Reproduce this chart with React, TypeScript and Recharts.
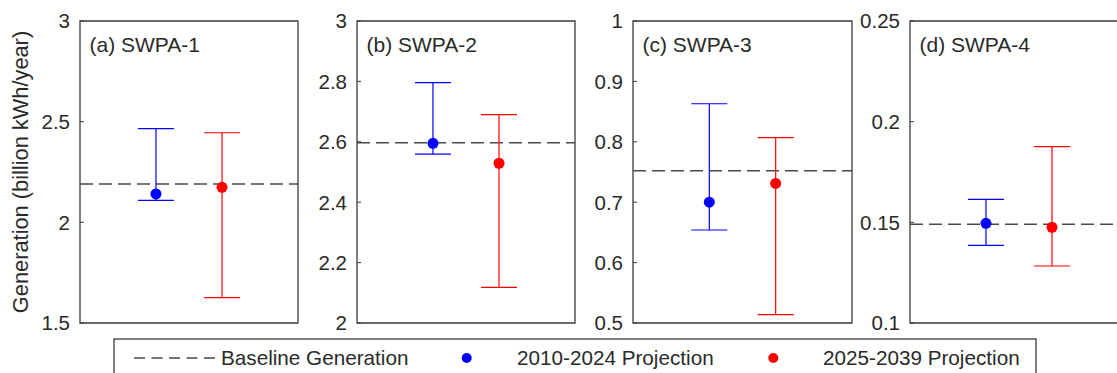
import React from 'react';
import {
  ScatterChart,
  Scatter,
  XAxis,
  YAxis,
  ErrorBar,
  ReferenceLine,
  ReferenceArea,
} from 'recharts';

// ---- data -------------------------------------------------------------
const panelTitles = ['(a) SWPA-1', '(b) SWPA-2', '(c) SWPA-3', '(d) SWPA-4'];

// baseline generation (billion kWh/year)
const baseline = [2.19, 2.597, 0.752, 0.149];

// 2010-2024 projection: mean with lower / upper bounds
const proj2010Mean = [2.141, 2.595, 0.7, 0.1495];
const proj2010Low = [2.109, 2.559, 0.654, 0.1386];
const proj2010High = [2.465, 2.796, 0.863, 0.1614];

// 2025-2039 projection: mean with lower / upper bounds
const proj2025Mean = [2.174, 2.529, 0.731, 0.1475];
const proj2025Low = [1.626, 2.118, 0.514, 0.1283];
const proj2025High = [2.445, 2.69, 0.807, 0.1876];

// y-axis ticks per panel
const yTicks = [
  [1.5, 2, 2.5, 3],
  [2, 2.2, 2.4, 2.6, 2.8, 3],
  [0.5, 0.6, 0.7, 0.8, 0.9, 1],
  [0.1, 0.15, 0.2, 0.25],
];

const yAxisTitle = 'Generation (billion kWh/year)';
const legendLabels = ['Baseline Generation', '2010-2024 Projection', '2025-2039 Projection'];

// ---- layout / style ---------------------------------------------------
const FONT = 'Arial, "Liberation Sans", Helvetica, sans-serif';
const W = 1117;
const H = 373;
const PLOT_TOP = 21;
const PLOT_BOTTOM = 323;
const panelBoxes = [
  { left: 80, width: 218 },
  { left: 357, width: 218 },
  { left: 633, width: 219 },
  { left: 910, width: 218 },
];
const X_DOMAIN: [number, number] = [-0.15, 3.15];
const BLUE = '#0000ff';
const RED = '#ff0000';
const FRAME = '#3a3a3a';
const TEXT = '#2a2a2a';
const DASH = '#4a4a4a';

const LeftTick = (props: any) => {
  const { x, y, payload } = props;
  return (
    <g>
      <line x1={x + 10} x2={x + 14} y1={y} y2={y} stroke={FRAME} strokeWidth={1} />
      <text
        x={x}
        y={y}
        dy="0.36em"
        textAnchor="end"
        fontSize={20.5}
        fontFamily={FONT}
        fill={TEXT}
      >
        {payload.value}
      </text>
    </g>
  );
};

const RightTick = (props: any) => {
  const { x, y } = props;
  return <line x1={x - 4} x2={x} y1={y} y2={y} stroke={FRAME} strokeWidth={1} />;
};

const PanelTitle = (props: any) => {
  const { viewBox, text } = props;
  if (!viewBox) return null;
  return (
    <text
      x={viewBox.x + 9.5}
      y={viewBox.y + 31}
      fontSize={21}
      fontFamily={FONT}
      fill={TEXT}
    >
      {text}
    </text>
  );
};

const AxisTitle = (props: any) => {
  const { viewBox } = props;
  if (!viewBox) return null;
  const cx = viewBox.x + 28;
  const cy = viewBox.y + viewBox.height / 2;
  return (
    <text
      x={cx}
      y={cy}
      transform={`rotate(-90, ${cx}, ${cy})`}
      textAnchor="middle"
      fontSize={21.8}
      fontFamily={FONT}
      fill={TEXT}
    >
      {yAxisTitle}
    </text>
  );
};

const dot = (color: string) => (props: any) =>
  <circle cx={props.cx} cy={props.cy} r={5.5} fill={color} />;

function Panel({ i }: { i: number }) {
  const axisW = i === 0 ? 80 : 60;
  const ticks = yTicks[i];
  const lo = ticks[0];
  const hi = ticks[ticks.length - 1];
  const box = panelBoxes[i];

  const early = [
    {
      x: 1,
      y: proj2010Mean[i],
      err: [proj2010Mean[i] - proj2010Low[i], proj2010High[i] - proj2010Mean[i]],
    },
  ];
  const late = [
    {
      x: 2,
      y: proj2025Mean[i],
      err: [proj2025Mean[i] - proj2025Low[i], proj2025High[i] - proj2025Mean[i]],
    },
  ];

  return (
    <div style={{ position: 'absolute', left: box.left - axisW, top: 0 }}>
      <ScatterChart
        width={axisW + box.width + 2}
        height={H}
        margin={{ top: PLOT_TOP, right: 2, bottom: H - PLOT_BOTTOM, left: 0 }}
      >
        <XAxis type="number" dataKey="x" domain={X_DOMAIN} hide allowDataOverflow />
        <YAxis
          yAxisId="l"
          type="number"
          dataKey="y"
          domain={[lo, hi]}
          ticks={ticks}
          interval={0}
          width={axisW}
          axisLine={false}
          tickLine={false}
          tickSize={0}
          tickMargin={10}
          tick={<LeftTick />}
          allowDataOverflow
          label={i === 0 ? <AxisTitle /> : undefined}
        />
        <YAxis
          yAxisId="r"
          orientation="right"
          type="number"
          domain={[lo, hi]}
          ticks={ticks}
          interval={0}
          width={0}
          axisLine={false}
          tickLine={false}
          tickSize={0}
          tickMargin={0}
          tick={<RightTick />}
          allowDataOverflow
        />
        <ReferenceArea
          yAxisId="l"
          x1={X_DOMAIN[0]}
          x2={X_DOMAIN[1]}
          y1={lo}
          y2={hi}
          fill="none"
          fillOpacity={0}
          stroke={FRAME}
          strokeWidth={1.3}
          label={<PanelTitle text={panelTitles[i]} />}
        />
        <ReferenceLine
          yAxisId="l"
          y={baseline[i]}
          stroke={DASH}
          strokeWidth={1.5}
          strokeDasharray="13 6"
        />
        <Scatter yAxisId="l" data={early} fill={BLUE} shape={dot(BLUE)} isAnimationActive={false}>
          <ErrorBar
            dataKey="err"
            direction="y"
            width={18}
            stroke={BLUE}
            strokeWidth={1.2}
            isAnimationActive={false}
          />
        </Scatter>
        <Scatter yAxisId="l" data={late} fill={RED} shape={dot(RED)} isAnimationActive={false}>
          <ErrorBar
            dataKey="err"
            direction="y"
            width={18}
            stroke={RED}
            strokeWidth={1.2}
            isAnimationActive={false}
          />
        </Scatter>
      </ScatterChart>
    </div>
  );
}

function LegendBox() {
  const textY = 365;
  const markY = 358;
  const fs = 20.7;
  return (
    <svg
      width={W}
      height={H}
      style={{ position: 'absolute', left: 0, top: 0, pointerEvents: 'none' }}
    >
      <rect x={114} y={339} width={922} height={50} fill="#fff" stroke={FRAME} strokeWidth={1.3} />
      <line x1={134} x2={215} y1={markY} y2={markY} stroke={DASH} strokeWidth={1.3} strokeDasharray="11 6.5" />
      <text x={221} y={textY} fontSize={fs} fontFamily={FONT} fill={TEXT}>
        {legendLabels[0]}
      </text>
      <circle cx={466.7} cy={markY} r={5} fill={BLUE} />
      <text x={517} y={textY} fontSize={fs} fontFamily={FONT} fill={TEXT}>
        {legendLabels[1]}
      </text>
      <circle cx={773.3} cy={markY} r={5} fill={RED} />
      <text x={823} y={textY} fontSize={fs} fontFamily={FONT} fill={TEXT}>
        {legendLabels[2]}
      </text>
    </svg>
  );
}

export default function App() {
  return (
    <div
      style={{
        position: 'absolute',
        left: 0,
        top: 0,
        width: W,
        height: H,
        overflow: 'hidden',
        background: '#fff',
        fontFamily: FONT,
      }}
    >
      {panelTitles.map((_, i) => (
        <Panel key={i} i={i} />
      ))}
      <LegendBox />
    </div>
  );
}
